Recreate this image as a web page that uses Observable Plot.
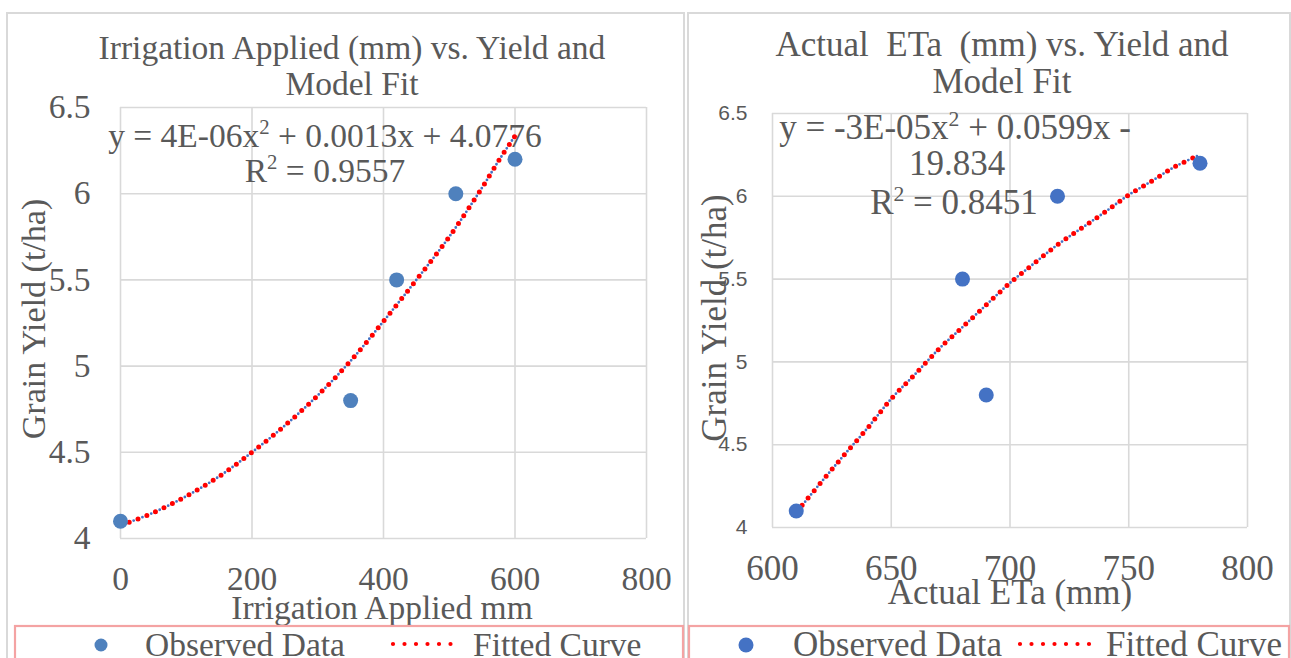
<!DOCTYPE html>
<html>
<head>
<meta charset="utf-8">
<script src="https://cdn.jsdelivr.net/npm/d3@7"></script>
<script src="https://cdn.jsdelivr.net/npm/@observablehq/plot@0.6"></script>
<style>
  html, body { margin: 0; padding: 0; background: #fff; }
  body { width: 1291px; height: 658px; overflow: hidden; position: relative; }
  .layer { position: absolute; left: 0; top: 0; }
  .plotbox { position: absolute; top: 0; }
</style>
</head>
<body>
<div id="bg" class="layer"></div>
<div id="p1" class="plotbox" style="left:0px"></div>
<div id="p2" class="plotbox" style="left:685px"></div>
<div id="fg" class="layer"></div>
<script>
// ---------- data ----------
const irrigationApplied = [0, 350, 420, 510, 600];
const irrigationYield   = [4.1, 4.8, 5.5, 6.0, 6.2];
const irrigationFitX = [0, 50, 100, 150, 200, 250, 300, 350, 400, 450, 500, 550, 575, 600];
const irrigationFitY = [4.075, 4.15, 4.245, 4.36, 4.50, 4.655, 4.83, 5.03, 5.26, 5.50, 5.75, 6.035, 6.19, 6.335];
const irrigationTicks = [0, 200, 400, 600, 800];

const actualETa  = [610, 680, 690, 720, 780];
const etaYield   = [4.1, 5.5, 4.8, 6.0, 6.2];
const etaFitX = [610, 620, 630, 640, 650, 660, 670, 680, 690, 700, 710, 720, 730, 740, 750, 760, 770, 780];
const etaFitY = [4.09, 4.265, 4.435, 4.60, 4.777, 4.925, 5.077, 5.21, 5.344, 5.477, 5.593, 5.707, 5.806, 5.905, 6.008, 6.095, 6.183, 6.25];
const etaTicks = [600, 650, 700, 750, 800];

const yieldTicks = [4, 4.5, 5, 5.5, 6, 6.5];

const titles = {
  left: ["Irrigation Applied (mm) vs. Yield and", "Model Fit"],
  right: ["Actual  ETa  (mm) vs. Yield and", "Model Fit"]
};
const equations = {
  left: ["y = 4E-06x² + 0.0013x + 4.0776", "R² = 0.9557"],
  right: ["y = -3E-05x² + 0.0599x -", "19.834", "R² = 0.8451"]
};
const xTitles = { left: "Irrigation Applied mm", right: "Actual ETa (mm)" };
const yTitle = "Grain Yield (t/ha)";
const legendLabels = ["Observed Data", "Fitted Curve"];

// ---------- helpers ----------
const TEXT = "#595959";
const GRID = "#d9d9d9";
const SERIF = "Liberation Serif, Times New Roman, serif";
const SANS = "Liberation Sans, Arial, sans-serif";

const toRows = (xs, ys) => xs.map((x, i) => ({x, y: ys[i]}));

function makePlot({width, mL, mR, mT, mB, xDomain, xTicks, obs, fit, dotColor, yFont, yFontSize, yPad, xFontSize}) {
  return Plot.plot({
    width, height: 658,
    marginLeft: mL, marginRight: mR, marginTop: mT, marginBottom: mB,
    x: {domain: xDomain},
    y: {domain: [4, 6.5]},
    style: {background: "transparent", color: TEXT, fontFamily: SERIF, overflow: "visible"},
    marks: [
      Plot.gridX(xTicks, {stroke: GRID, strokeOpacity: 1, strokeWidth: 1.6}),
      Plot.gridY(yieldTicks, {stroke: GRID, strokeOpacity: 1, strokeWidth: 1.6}),
      Plot.axisX(xTicks, {tickSize: 0, tickPadding: 28, fontSize: xFontSize, fontFamily: SERIF,
        tickFormat: d => String(d), label: null}),
      Plot.axisY(yieldTicks, {tickSize: 0, tickPadding: yPad, fontSize: yFontSize, fontFamily: yFont,
        tickFormat: d => String(d), label: null}),
      Plot.line(fit, {x: "x", y: "y", curve: "catmull-rom", stroke: "#4472c4", strokeWidth: 2.8,
        strokeDasharray: "0 9.4", strokeDashoffset: 4.7, strokeLinecap: "round"}),
      Plot.line(fit, {x: "x", y: "y", curve: "catmull-rom", stroke: "#ff0000", strokeWidth: 5,
        strokeDasharray: "0 9.4", strokeLinecap: "round"}),
      Plot.dot(obs, {x: "x", y: "y", r: 7.5, fill: dotColor, stroke: "none"})
    ]
  });
}

document.getElementById("p1").append(makePlot({
  width: 686, mL: 120, mR: 40, mT: 107, mB: 120,
  xDomain: [0, 800], xTicks: irrigationTicks,
  obs: toRows(irrigationApplied, irrigationYield),
  fit: toRows(irrigationFitX, irrigationFitY),
  dotColor: "#4f81bd", yFont: SERIF, yFontSize: 33.5, yPad: 30, xFontSize: 33.5
}));

document.getElementById("p2").append(makePlot({
  width: 606, mL: 87, mR: 44, mT: 113, mB: 131,
  xDomain: [600, 800], xTicks: etaTicks,
  obs: toRows(actualETa, etaYield),
  fit: toRows(etaFitX, etaFitY),
  dotColor: "#4472c4", yFont: SANS, yFontSize: 21, yPad: 25, xFontSize: 35
}));

// ---------- frames (behind) ----------
const bg = d3.select("#bg").append("svg").attr("width", 1291).attr("height", 658);
bg.append("rect").attr("x", 7).attr("y", 13).attr("width", 677).attr("height", 700)
  .attr("fill", "#fff").attr("stroke", GRID).attr("stroke-width", 2);
bg.append("rect").attr("x", 688).attr("y", 13).attr("width", 602).attr("height", 700)
  .attr("fill", "#fff").attr("stroke", GRID).attr("stroke-width", 2);

// ---------- texts and legends (front) ----------
const fg = d3.select("#fg").append("svg").attr("width", 1291).attr("height", 658)
  .style("font-family", SERIF).attr("fill", TEXT);

function txt(s, x, y, size, anchor = "middle", rotate = false) {
  const t = fg.append("text").attr("font-size", size).attr("text-anchor", anchor)
    .attr("xml:space", "preserve").style("white-space", "pre");
  // render "²" as a real raised superscript 2
  const parts = s.split("²");
  parts.forEach((p, i) => {
    if (i > 0) {
      t.append("tspan").text("2").attr("font-size", size * 0.62).attr("dy", -size * 0.38);
      if (p.length) t.append("tspan").text(p).attr("dy", size * 0.38);
    } else if (p.length) {
      t.append("tspan").text(p);
    }
  });
  if (rotate) t.attr("transform", `translate(${x},${y}) rotate(-90)`);
  else t.attr("x", x).attr("y", y);
  return t;
}

// left panel
txt(titles.left[0], 352, 59, 33.5);
txt(titles.left[1], 352, 95, 33.5);
txt(equations.left[0], 325, 147, 33.5);
txt(equations.left[1], 325, 182, 33.5);
txt(xTitles.left, 382, 619, 33.5);
txt(yTitle, 45, 319, 34, "middle", true);

// right panel
txt(titles.right[0], 1002, 56, 35);
txt(titles.right[1], 1002, 93, 35);
txt(equations.right[0], 955, 139, 35);
txt(equations.right[1], 957, 175, 35);
txt(equations.right[2], 954, 214, 35);
txt(xTitles.right, 1010, 604, 35);
txt(yTitle, 726, 318, 35, "middle", true);

// legends
const LEG = "#f4a3a3";
function legend(x0, w, dotX, dotR, dotColor, t1x, lineX0, lineX1, t2x, size) {
  fg.append("rect").attr("x", x0).attr("y", 626).attr("width", w).attr("height", 60)
    .attr("fill", "none").attr("stroke", LEG).attr("stroke-width", 2.2);
  fg.append("circle").attr("cx", dotX).attr("cy", 645).attr("r", dotR).attr("fill", dotColor);
  txt(legendLabels[0], t1x, 656, size, "start");
  fg.append("line").attr("x1", lineX0).attr("x2", lineX1).attr("y1", 644).attr("y2", 644)
    .attr("stroke", "#ff0000").attr("stroke-width", 4.2).attr("stroke-linecap", "round")
    .attr("stroke-dasharray", "0 11.5");
  txt(legendLabels[1], t2x, 656, size, "start");
}
legend(15, 668, 101, 6.5, "#4f81bd", 145, 393, 462, 473, 33.5);
legend(689, 600, 746, 7.5, "#4472c4", 793, 1020, 1095, 1106, 35);
</script>
</body>
</html>
